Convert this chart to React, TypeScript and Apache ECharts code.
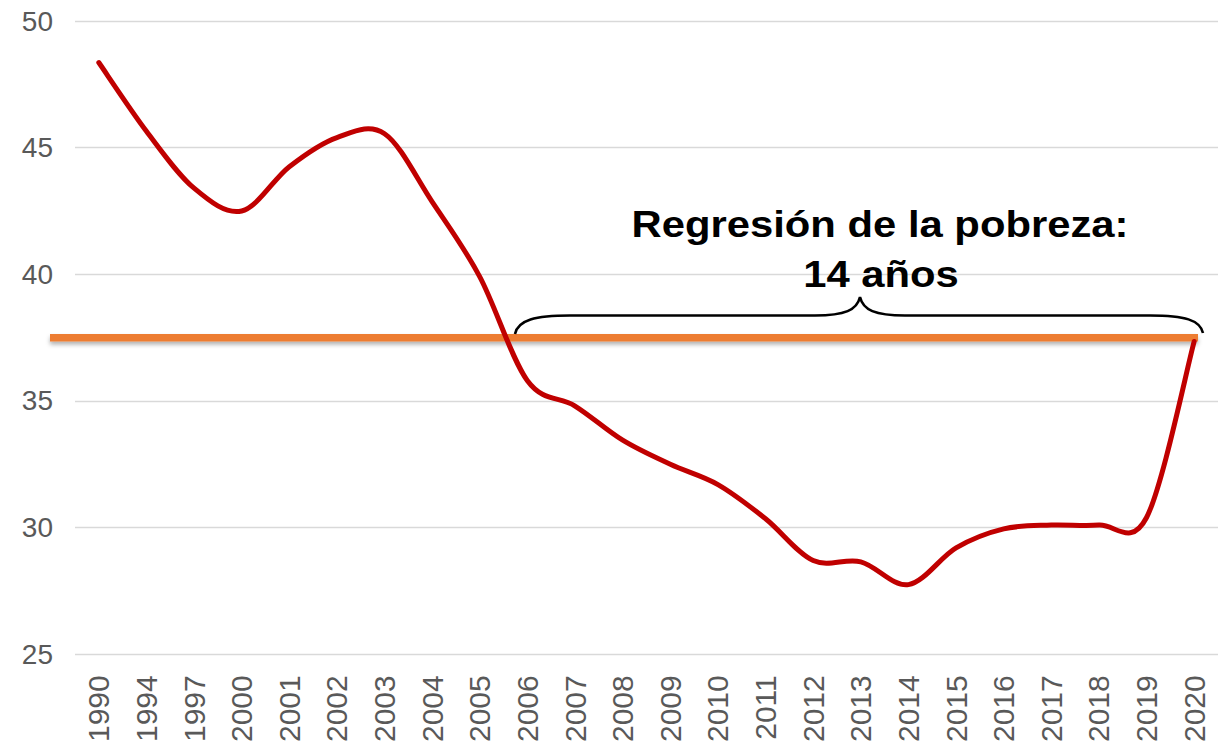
import React, { useEffect, useRef } from "react";
import * as echarts from "echarts";

const years = [
  "1990", "1994", "1997", "2000", "2001", "2002", "2003", "2004", "2005", "2006",
  "2007", "2008", "2009", "2010", "2011", "2012", "2013", "2014", "2015", "2016",
  "2017", "2018", "2019", "2020",
];
const poverty = [
  48.36, 45.65, 43.4, 42.5, 44.25, 45.4, 45.55, 42.86, 39.9, 35.8,
  34.8, 33.45, 32.5, 31.7, 30.35, 28.7, 28.65, 27.75, 29.2, 29.95,
  30.1, 30.1, 30.4, 37.35,
];
const referenceLevel = 37.5;
const annotationLine1 = "Regresión de la pobreza:";
const annotationLine2 = "14 años";

const bracePath =
  "M515,334 C518,320 535,315.5 570,315.5 L815,315.5 C845,315.5 857,310 860,297 C863,310 875,315.5 905,315.5 L1150,315.5 C1185,315.5 1200,320 1203,333";

let registered = false;

function smoothPath(pts: number[][]): string {
  const n = pts.length;
  const p = (i: number) => pts[Math.max(0, Math.min(n - 1, i))];
  let d = `M${pts[0][0]},${pts[0][1]}`;
  for (let i = 0; i < n - 1; i++) {
    const p0 = p(i - 1), p1 = p(i), p2 = p(i + 1), p3 = p(i + 2);
    const c1x = p1[0] + (p2[0] - p0[0]) / 6;
    const c1y = p1[1] + (p2[1] - p0[1]) / 6;
    const c2x = p2[0] - (p3[0] - p1[0]) / 6;
    const c2y = p2[1] - (p3[1] - p1[1]) / 6;
    d += ` C${c1x},${c1y} ${c2x},${c2y} ${p2[0]},${p2[1]}`;
  }
  return d;
}

export default function App() {
  const ref = useRef<HTMLDivElement>(null);
  useEffect(() => {
    if (!ref.current) return;
    if (!registered) {
      echarts.graphic.registerShape("brace", echarts.graphic.extendPath(bracePath, {}) as any);
      registered = true;
    }
    const chart = echarts.init(ref.current, null, { renderer: "svg" });
    const font = 'Arial, "Liberation Sans", sans-serif';
    chart.setOption({
      animation: false,
      backgroundColor: "#ffffff",
      grid: { left: 75, right: -12, top: 21, bottom: 90, containLabel: false },
      xAxis: {
        type: "category",
        data: years,
        boundaryGap: true,
        axisLine: { show: false },
        axisTick: { show: false },
        axisLabel: {
          rotate: 90,
          margin: 21,
          color: "#595959",
          fontSize: 30,
          fontFamily: font,
          interval: 0,
        },
      },
      yAxis: {
        type: "value",
        min: 25,
        max: 50,
        interval: 5,
        axisLine: { show: false },
        axisTick: { show: false },
        axisLabel: { color: "#595959", fontSize: 28, fontFamily: font, margin: 22 },
        splitLine: { lineStyle: { color: "#D9D9D9", width: 1.3 } },
      },
      series: [
        {
          type: "custom",
          data: poverty.map((v, i) => [i, v]),
          encode: { x: 0, y: 1 },
          z: 3,
          clip: false,
          renderItem: (params: any, api: any) => {
            if (params.dataIndex !== 0) return null;
            const pts = poverty.map((v, i) => api.coord([i, v]));
            return {
              type: "path",
              shape: { pathData: smoothPath(pts) },
              style: { stroke: "#C00000", lineWidth: 5, fill: "none", lineCap: "round", lineJoin: "round" },
            };
          },
        },
      ],
    });
    const yRef = (chart.convertToPixel({ gridIndex: 0 }, [0, referenceLevel]) as number[])[1];
    chart.setOption({
      graphic: [
        {
          type: "rect",
          z: 1,
          shape: { x: 50, y: yRef - 3.75, width: 1148, height: 7.5 },
          style: {
            fill: "#ED7D31",
            shadowColor: "rgba(0,0,0,0.3)",
            shadowBlur: 4,
            shadowOffsetY: 3,
          },
        },
        {
          type: "brace",
          z: 5,
          x: 0,
          y: 0,
          style: { stroke: "#000000", fill: "none", lineWidth: 2.6 },
        },
        {
          type: "text",
          z: 5,
          x: 880,
          y: 224,
          scaleX: 1.13,
          style: {
            text: annotationLine1,
            fill: "#000000",
            font: `bold 37px ${font}`,
            align: "center",
            verticalAlign: "middle",
          },
        },
        {
          type: "text",
          z: 5,
          x: 881,
          y: 274,
          scaleX: 1.13,
          style: {
            text: annotationLine2,
            fill: "#000000",
            font: `bold 37px ${font}`,
            align: "center",
            verticalAlign: "middle",
          },
        },
      ],
    });
    return () => chart.dispose();
  }, []);
  return (
    <div
      ref={ref}
      style={{ position: "fixed", left: 0, top: 0, width: 1218, height: 745, background: "#fff" }}
    />
  );
}
